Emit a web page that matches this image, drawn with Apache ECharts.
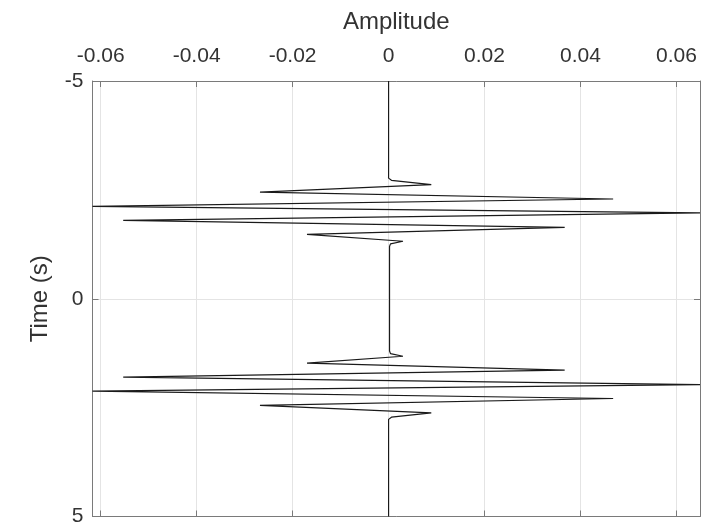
<!DOCTYPE html>
<html>
<head>
<meta charset="utf-8">
<script src="https://cdn.jsdelivr.net/npm/echarts@6/dist/echarts.min.js"></script>
<style>
  html, body { margin: 0; padding: 0; background: #fff; }
  #chart { width: 728px; height: 531px; }
</style>
</head>
<body>
<div id="chart"></div>
<script>
// trace: time (s) and amplitude at each turning point
const timeValues = [-5, -2.77, -2.72, -2.62, -2.45, -2.29, -2.12, -1.97, -1.80, -1.64, -1.48, -1.32, -1.26, -1.20,
  1.20, 1.26, 1.32, 1.48, 1.64, 1.80, 1.97, 2.12, 2.29, 2.45, 2.62, 2.72, 2.77, 5]
const ampValues = [0, 0, 0.0006, 0.0089, -0.0268, 0.0468, -0.0617, 0.0649, -0.0553, 0.0367, -0.017, 0.003, 0.0004, 0.0002,
  0.0002, 0.0004, 0.003, -0.017, 0.0367, -0.0553, 0.0649, -0.0617, 0.0468, -0.0268, 0.0089, 0.0006, 0, 0]

const ampTicks = [-0.06, -0.04, -0.02, 0, 0.02, 0.04, 0.06]

const ampMin = -0.0617
const ampMax = 0.0649

const axisColor = '#7a7a7a'
const gridColor = '#e4e4e4'
const textColor = '#333'
const font = 'Liberation Sans, Arial, Helvetica, sans-serif'

const chart = echarts.init(document.getElementById('chart'))

const traceData = timeValues.map((t, i) => [ampValues[i], t])

// box edge shared by the 4 axes, ticks pointing inward like matlab
const edge = (extra) =>
  Object.assign(
    {
      type: 'value',
      axisLine: { show: true, onZero: false, lineStyle: { color: axisColor, width: 1 } },
      axisTick: { show: true, inside: true, length: 6, lineStyle: { color: axisColor } },
      axisLabel: { show: false },
      splitLine: { show: false },
    },
    extra
  )

chart.setOption({
  animation: false,
  backgroundColor: '#fff',
  grid: {
    left: 92.5,
    right: 28,
    top: 81,
    bottom: 14.5,
  },
  xAxis: [
    edge({
      position: 'top',
      min: ampMin,
      max: ampMax,
      name: 'Amplitude',
      nameLocation: 'middle',
      nameGap: 47,
      nameTextStyle: { color: textColor, fontSize: 24, fontFamily: font },
      axisTick: { show: true, inside: true, length: 6, customValues: ampTicks, lineStyle: { color: axisColor } },
      axisLabel: {
        customValues: ampTicks,
        color: textColor,
        fontSize: 21,
        fontFamily: font,
        margin: 14,
        formatter: (v) => (v === 0 ? '0' : v.toFixed(2)),
      },
      splitLine: { show: true, lineStyle: { color: gridColor, width: 1 } },
    }),
    edge({
      position: 'bottom',
      min: ampMin,
      max: ampMax,
      axisTick: { show: true, inside: true, length: 6, customValues: ampTicks, lineStyle: { color: axisColor } },
    }),
  ],
  yAxis: [
    edge({
      position: 'left',
      inverse: true,
      min: -5,
      max: 5,
      interval: 5,
      name: 'Time (s)',
      nameLocation: 'middle',
      nameGap: 40,
      nameTextStyle: { color: textColor, fontSize: 24, fontFamily: font },
      axisLabel: { color: textColor, fontSize: 21, fontFamily: font, margin: 9 },
      splitLine: { show: true, lineStyle: { color: gridColor, width: 1 } },
    }),
    edge({
      position: 'right',
      inverse: true,
      min: -5,
      max: 5,
      interval: 5,
    }),
  ],
  series: [
    {
      type: 'line',
      xAxisIndex: 0,
      yAxisIndex: 0,
      data: traceData,
      showSymbol: false,
      symbol: 'none',
      lineStyle: { color: '#1a1a1a', width: 1.2 },
    },
  ],
})
</script>
</body>
</html>
